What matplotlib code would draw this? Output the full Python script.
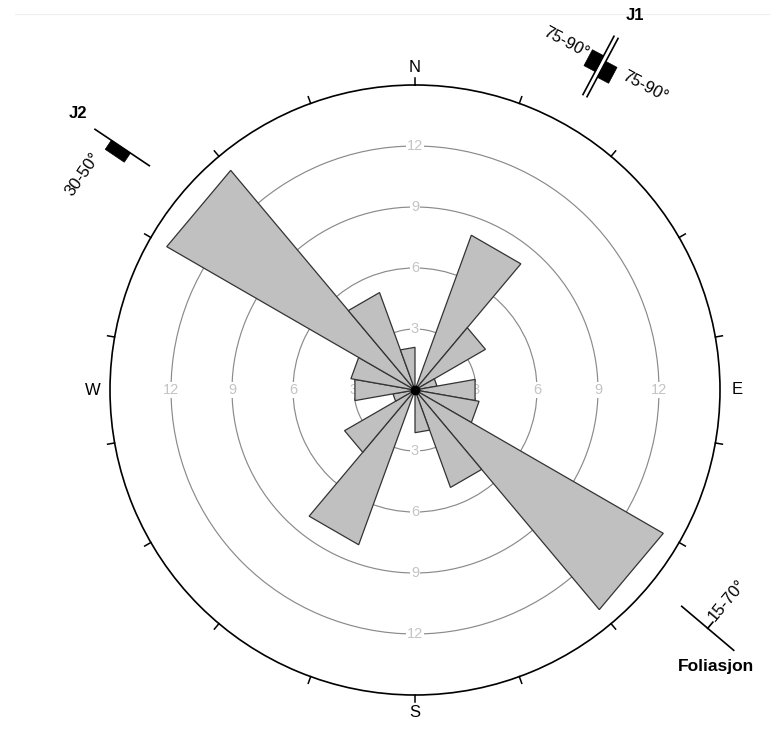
import matplotlib
matplotlib.use("Agg")
import matplotlib.pyplot as plt
import numpy as np
from matplotlib.patches import Polygon

plt.rcParams['font.family'] = ['Liberation Sans', 'DejaVu Sans']

# bidirectional rose: 20 degree bins for strikes 0-180, same value again 180-360
bin_starts = [0, 20, 40, 60, 80, 100, 120, 140, 160]
half_values = [0.0, 8.1, 4.0, 1.1, 3.0, 3.2, 14.1, 5.1, 2.1]
bin_width = 20
ring_values = [3, 6, 9, 12]
ring_labels = ["3", "6", "9", "12"]
compass_angles = [0, 90, 180, 270]
compass_labels = ["N", "E", "S", "W"]
tick_angles = list(range(0, 360, 20))
r_max = 15


def unit(strike):
    a = np.deg2rad(strike)
    s = np.array([np.sin(a), -np.cos(a)])   # along strike (screen coords, y down)
    n = np.array([np.cos(a), np.sin(a)])    # to the right of strike
    return s, n


def rect(ax, c, s, n, s0, s1, n0, n1):
    pts = [c + s * s0 + n * n0, c + s * s1 + n * n0,
           c + s * s1 + n * n1, c + s * s0 + n * n1]
    ax.add_patch(Polygon(pts, closed=True, fc='black', ec='black', lw=0.5))


def plot_rose():
    fig = plt.figure(figsize=(7.7, 7.49), dpi=100)
    ax = fig.add_axes([110 / 770, 54 / 749, 610 / 770, 610 / 749], projection='polar')
    ax.set_theta_zero_location('N')
    ax.set_theta_direction(-1)
    ax.set_ylim(0, r_max)
    ax.set_axisbelow(True)
    ax.set_xticks([])
    ax.set_rgrids(ring_values, labels=[])
    ax.yaxis.grid(True, color='#8a8a8a', lw=0.85)
    ax.spines['polar'].set_linewidth(1.2)
    ax.spines['polar'].set_color('black')

    starts = bin_starts + [b + 180 for b in bin_starts]
    values = half_values + half_values
    # petals are triangles with straight outer edges
    for a0, v in zip(starts, values):
        if v <= 0:
            continue
        th = np.deg2rad([a0, a0, a0 + bin_width])
        ax.fill(th, [0, v, v], facecolor='#c0c0c0', edgecolor='#333333',
                linewidth=0.9, zorder=2)
    ax.plot(0, 0, 'o', color='black', ms=6, zorder=3)

    for a in compass_angles:
        for r, lab in zip(ring_values, ring_labels):
            ax.text(np.deg2rad(a), r, lab, ha='center', va='center', color='#c4c4c4',
                    fontsize=10.5, zorder=1.5,
                    bbox=dict(boxstyle='square,pad=0.05', fc='white', ec='none'))

    for a in tick_angles:
        ax.plot([np.deg2rad(a)] * 2, [r_max, r_max + 0.35], color='black', lw=1.1,
                clip_on=False)

    for a, lab in zip(compass_angles, compass_labels):
        ax.text(np.deg2rad(a), r_max + 0.85, lab, ha='center', va='center', fontsize=12)

    # overlay in pixel coordinates for the structure symbols
    ov = fig.add_axes([0, 0, 1, 1])
    ov.set_xlim(0, 770)
    ov.set_ylim(749, 0)
    ov.axis('off')
    ov.patch.set_alpha(0)

    ov.plot([15, 770], [14, 14], color='#eeeeee', lw=0.8)

    # J1
    c = np.array([600.5, 66.5])
    s, n = unit(28)
    for off in (-2.3, 2.3):
        p0 = c - s * 33 + n * off
        p1 = c + s * 33 + n * off
        ov.plot([p0[0], p1[0]], [p0[1], p1[1]], color='black', lw=1.2)
    rect(ov, c, s, n, -7, 11, -2.3, -15)
    rect(ov, c, s, n, -11, 7, 2.3, 15)
    ov.text(635, 15, "J1", ha='center', va='center', fontsize=12, fontweight='bold')
    ov.text(566, 43, "75-90°", ha='center', va='center', fontsize=12, rotation=-28)
    ov.text(645, 87, "75-90°", ha='center', va='center', fontsize=12, rotation=-28)

    # J2
    p0 = np.array([95, 129.3])
    p1 = np.array([149.3, 165.7])
    ov.plot([p0[0], p1[0]], [p0[1], p1[1]], color='black', lw=1.2)
    c = (p0 + p1) / 2
    s, n = unit(124)
    rect(ov, c, s, n, -13, 10, 0, 11)
    ov.text(78, 113, "J2", ha='center', va='center', fontsize=12, fontweight='bold')
    ov.text(83, 174, "30-50°", ha='center', va='center', fontsize=12, rotation=55)

    # Foliasjon
    p0 = np.array([681.7, 606.3])
    p1 = np.array([733.7, 650.3])
    ov.plot([p0[0], p1[0]], [p0[1], p1[1]], color='black', lw=1.2)
    c = (p0 + p1) / 2
    s, n = unit(130)
    t = c - n * 8
    ov.plot([c[0], t[0]], [c[1], t[1]], color='black', lw=1.2)
    ov.text(727, 600, "15-70°", ha='center', va='center', fontsize=12, rotation=50)
    ov.text(716, 667, "Foliasjon", ha='center', va='center', fontsize=12.5,
            fontweight='bold')

    fig.savefig('out.png', dpi=100)


if __name__ == '__main__':
    plot_rose()
